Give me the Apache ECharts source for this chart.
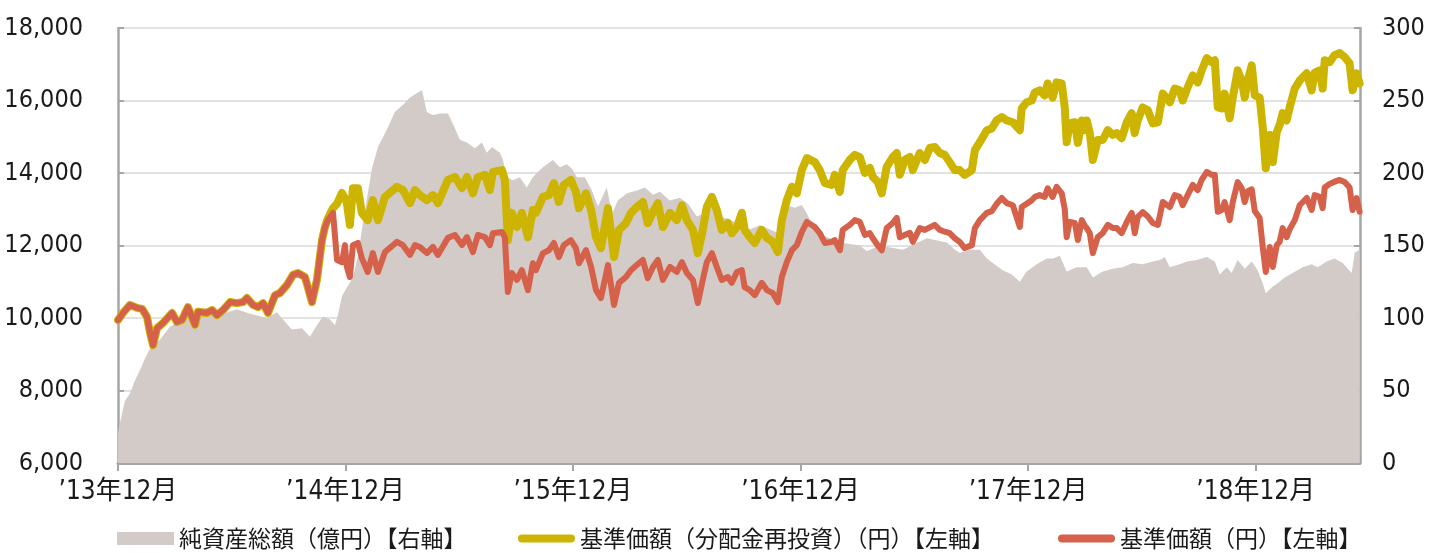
<!DOCTYPE html>
<html>
<head>
<meta charset="utf-8">
<script src="https://cdn.jsdelivr.net/npm/echarts@6/dist/echarts.min.js"></script>
<style>html,body{margin:0;padding:0;background:#fff;}#c{width:1429px;height:553px;}</style>
</head>
<body>
<div id="c"></div>
<script>
// x positions: months elapsed since Dec 2013
const lineMonths = [0,0.26,0.63,1.00,1.27,1.53,1.69,1.85,2.06,2.37,2.85,3.11,3.37,3.69,4.06,4.22,4.69,4.96,5.22,5.54,5.91,6.27,6.59,6.80,7.12,7.38,7.65,7.91,8.28,8.54,8.91,9.23,9.49,9.86,10.23,10.49,10.76,10.91,11.07,11.34,11.55,11.81,11.97,12.07,12.23,12.39,12.65,12.86,13.17,13.44,13.71,14.08,14.71,15.03,15.40,15.66,15.92,16.29,16.61,16.87,17.40,17.77,18.14,18.40,18.72,18.98,19.35,19.61,19.77,20.25,20.40,20.56,20.77,21.04,21.30,21.62,21.88,22.04,22.41,22.72,22.99,23.25,23.51,23.88,24.15,24.31,24.68,24.95,25.21,25.47,25.84,26.16,26.42,26.79,27.05,27.36,27.68,27.94,28.21,28.47,28.74,29.11,29.47,29.74,30.00,30.32,30.58,30.84,31.05,31.32,31.58,31.84,32.16,32.37,32.64,32.90,33.05,33.32,33.58,33.95,34.22,34.53,34.80,35.01,35.27,35.54,35.80,36.06,36.33,36.75,37.01,37.28,37.64,37.80,38.07,38.22,38.59,38.86,39.12,39.39,39.65,39.81,40.07,40.28,40.54,40.86,41.07,41.23,41.49,41.76,41.92,42.28,42.55,42.81,43.07,43.34,43.60,43.86,44.13,44.39,44.65,45.03,45.19,45.45,45.82,46.08,46.34,46.61,46.87,47.19,47.56,47.66,47.92,48.19,48.35,48.61,48.87,49.03,49.29,49.50,49.77,49.93,50.03,50.19,50.46,50.62,50.83,50.98,51.09,51.25,51.41,51.67,51.93,52.20,52.46,52.67,52.93,53.20,53.46,53.62,53.78,54.04,54.31,54.57,54.84,55.10,55.20,55.47,55.73,55.99,56.15,56.41,56.68,56.94,57.15,57.42,57.68,57.84,58.00,58.21,58.36,58.63,58.79,59.05,59.26,59.42,59.58,59.79,59.95,60.21,60.37,60.53,60.74,60.90,61.11,61.26,61.42,61.63,61.79,62.06,62.32,62.69,62.95,63.11,63.37,63.53,63.64,63.90,64.16,64.43,64.69,64.95,65.11,65.32,65.48];

const navReinvested = [9945,10140,10360,10280,10250,10030,9590,9250,9720,9860,10140,9890,9945,10300,9810,10170,10140,10220,10080,10220,10440,10410,10440,10550,10360,10300,10410,10140,10630,10690,10910,11190,11240,11130,10440,11050,12150,12500,12750,13030,13150,13450,13300,13170,12570,13580,13580,12900,12700,13250,12700,13340,13620,13530,13170,13530,13390,13250,13390,13170,13810,13890,13580,13890,13440,13890,13950,13530,14030,14080,13810,12150,12900,12510,12900,12230,12980,12900,13340,13390,13720,13200,13670,13810,13480,13030,13440,12980,12230,11930,13030,11680,12430,12620,12900,13060,13200,12620,12920,13170,12510,12900,12700,13110,12700,12430,11790,12430,13060,13340,12980,12430,12620,12340,12510,12900,12430,12230,12070,12430,12210,12100,11820,12700,13250,13620,13440,14080,14410,14300,14080,13720,13670,13950,13480,14080,14360,14500,14440,14000,14140,13890,13750,13440,14170,14440,14550,13950,14360,14440,14080,14550,14360,14690,14720,14550,14500,14300,14080,14080,13950,14080,14630,14850,15180,15230,15450,15540,15450,15400,15180,15780,15950,16000,16220,16280,16140,16470,16080,16500,16470,15810,14850,15370,15400,14830,15450,15180,15450,15100,14360,14910,14910,15180,15050,15100,14960,15400,15650,15100,15450,15810,15730,15370,15400,16190,16140,15950,16330,16280,16000,16360,16690,16500,16830,17170,17060,17110,15810,15780,16190,15510,16080,16830,16550,16080,16550,16970,16140,16080,15260,14130,15050,14300,15130,15320,15650,15450,15810,16330,16550,16750,16280,16770,16830,16330,17110,17060,17250,17310,17200,17030,16280,16750,16470];

const navPrice = [9945,10140,10360,10280,10250,10030,9590,9250,9720,9860,10140,9890,9945,10300,9810,10170,10140,10220,10080,10220,10440,10410,10440,10550,10360,10300,10410,10140,10630,10690,10910,11190,11240,11130,10440,11050,12150,12500,12700,12900,11600,11540,12010,11410,11130,12010,12070,11650,11270,11790,11270,11820,12100,12010,11740,12010,11960,11790,11960,11740,12210,12290,12010,12230,11820,12290,12230,12010,12340,12370,12230,10720,11240,11050,11320,10770,11510,11320,11790,11870,12070,11680,12010,12150,11930,11510,11870,11410,10770,10550,11460,10360,10970,11130,11320,11460,11600,11100,11410,11600,11050,11410,11270,11540,11240,11050,10410,11050,11540,11790,11410,11050,11130,10970,11270,11320,10850,10770,10630,10970,10770,10690,10440,11130,11540,11870,12010,12370,12650,12510,12340,12070,12100,12150,11870,12430,12570,12700,12650,12290,12340,12200,12000,11870,12480,12620,12760,12230,12290,12350,12100,12480,12430,12500,12570,12430,12380,12340,12200,12100,11930,12010,12480,12700,12900,12950,13150,13310,13170,13110,12510,13060,13150,13250,13340,13390,13340,13580,13340,13620,13440,13000,12230,12650,12620,12150,12700,12550,12480,12340,11790,12230,12340,12570,12480,12480,12340,12650,12900,12340,12790,12920,12800,12620,12570,13200,13200,13060,13390,13340,13110,13390,13670,13530,13810,14030,13950,13950,12930,12980,13200,12700,13200,13750,13580,13200,13500,13550,12950,12760,11960,11270,11960,11410,12010,12100,12480,12230,12450,12700,13110,13310,12980,13390,13340,13030,13600,13700,13760,13810,13750,13600,12980,13310,12930];

const assetMonths = [0,0.21,0.37,0.63,0.90,1.16,1.42,1.69,2.21,2.74,3.43,4.17,4.85,5.54,6.27,6.96,7.86,8.38,8.70,9.17,9.70,10.12,10.49,10.81,11.18,11.44,11.60,11.81,12.07,12.39,12.65,13.02,13.39,13.71,14.18,14.60,15.03,15.40,15.76,16.03,16.29,16.61,16.98,17.40,17.66,18.03,18.40,18.82,19.19,19.45,19.72,20.14,20.30,20.51,20.83,21.19,21.56,21.88,22.09,22.41,22.93,23.30,23.67,23.94,24.20,24.62,24.99,25.31,25.78,26.05,26.36,26.84,27.36,27.79,28.21,28.58,29.10,29.63,30.05,30.53,30.84,31.32,31.74,32.27,32.79,33.32,33.85,34.38,34.74,35.01,35.43,35.69,36.06,36.33,36.75,37.01,38.07,39.12,39.49,40.18,41.39,42.65,43.71,44.13,44.39,44.92,45.45,45.82,46.13,46.66,47.13,47.56,47.92,48.45,48.98,49.30,49.67,50.03,50.56,51.09,51.41,51.93,52.46,52.99,53.51,54.04,54.57,54.94,55.20,55.47,55.99,56.36,56.89,57.42,57.84,58.10,58.47,58.73,59.05,59.42,59.79,60.10,60.37,60.53,60.84,61.16,61.53,61.95,62.48,62.95,63.27,63.74,64.16,64.59,65.06,65.22,65.48];

const netAssets = [21,34,43,48,57,64,72,79,85,94,99,106,107,103,106,103,100,104,99,92,93,87,95,101,99,95,102,115,121,128,143,174,203,218,230,242,247,252,255,257,242,240,241,241,234,223,221,217,221,214,218,214,209,197,195,197,190,197,200,204,209,204,206,203,197,197,188,177,190,172,181,186,188,190,185,187,181,183,179,170,172,177,170,168,164,161,164,161,159,168,177,176,178,172,160,158,152,150,146,150,147,155,152,147,145,147,147,141,138,133,130,125,132,137,141,141,143,132,135,135,128,132,134,135,138,137,139,140,142,135,137,139,140,142,139,130,135,131,140,134,139,133,124,117,121,124,128,131,135,137,135,139,141,138,131,145,147];

const xTickYears = ['13','14','15','16','17','18'];
const seriesNames = ['純資産総額（億円）【右軸】','基準価額（分配金再投資）（円）【左軸】','基準価額（円）【左軸】'];

const pair = (xs, ys) => xs.map((x, i) => [x, ys[i]]);

const numFont = "'Liberation Sans Narrow','DejaVu Sans Condensed','Noto Sans CJK JP',sans-serif";
const axisGray = '#a6a6a6';
const colGray = '#d3cbc8', colYellow = '#cdb400', colRed = '#d5614a';
const lineIcon = 'path://M4,0 H53 A4,4 0 0 1 53,8 H4 A4,4 0 0 1 4,0 Z';

const legendBase = {
  top: 522, itemWidth: 57, itemHeight: 13,
  textStyle: {fontFamily: "'Noto Sans CJK JP',sans-serif", fontSize: 23, color: '#1a1a1a'}
};

const chart = echarts.init(document.getElementById('c'), null, {renderer: 'canvas'});
chart.setOption({
  animation: false,
  backgroundColor: '#ffffff',
  grid: {left: 118, right: 69, top: 28, bottom: 90, containLabel: false, outerBoundsMode: 'none'},
  legend: [
    Object.assign({}, legendBase, {left: 112, data: [{name: seriesNames[0], icon: 'rect', itemStyle: {color: colGray}}]}),
    Object.assign({}, legendBase, {left: 513, data: [{name: seriesNames[1], icon: lineIcon, itemStyle: {color: colYellow}}]}),
    Object.assign({}, legendBase, {left: 1053, data: [{name: seriesNames[2], icon: lineIcon, itemStyle: {color: colRed}}]})
  ],
  xAxis: {
    type: 'value', min: 0, max: 65.5, interval: 12,
    axisLine: {lineStyle: {color: axisGray, width: 3}},
    axisTick: {show: true, inside: false, length: 8, lineStyle: {color: axisGray, width: 2}},
    splitLine: {show: false},
    axisLabel: {
      margin: 16, fontSize: 26, color: '#1a1a1a', fontFamily: numFont,
      showMaxLabel: false,
      formatter: v => (v % 12 === 0 && v / 12 < xTickYears.length) ? '’' + xTickYears[v / 12] + '年12月' : ''
    }
  },
  yAxis: [
    {
      type: 'value', min: 6000, max: 18000, interval: 2000, position: 'left',
      axisLine: {show: true, lineStyle: {color: axisGray, width: 2.5}},
      axisTick: {show: true, inside: true, length: 6, lineStyle: {color: axisGray, width: 2}},
      splitLine: {show: true, lineStyle: {color: '#d9d9d9', width: 1.5}},
      axisLabel: {margin: 35, fontSize: 25, color: '#1a1a1a', fontFamily: numFont,
        formatter: v => v.toLocaleString('en-US')}
    },
    {
      type: 'value', min: 0, max: 300, interval: 50, position: 'right',
      axisLine: {show: true, lineStyle: {color: axisGray, width: 2.5}},
      axisTick: {show: true, inside: true, length: 6, lineStyle: {color: axisGray, width: 2}},
      splitLine: {show: false},
      axisLabel: {margin: 22, fontSize: 25, color: '#1a1a1a', fontFamily: numFont}
    }
  ],
  series: [
    {
      name: seriesNames[0], type: 'line', yAxisIndex: 1,
      data: pair(assetMonths, netAssets),
      symbol: 'none', showSymbol: false,
      lineStyle: {width: 0, color: colGray},
      itemStyle: {color: colGray},
      areaStyle: {color: colGray, opacity: 1},
      z: 1
    },
    {
      name: seriesNames[1], type: 'line', yAxisIndex: 0,
      data: pair(lineMonths, navReinvested),
      symbol: 'none', showSymbol: false,
      lineStyle: {width: 8, color: colYellow, cap: 'round', join: 'round'},
      itemStyle: {color: colYellow},
      z: 2
    },
    {
      name: seriesNames[2], type: 'line', yAxisIndex: 0,
      data: pair(lineMonths, navPrice),
      symbol: 'none', showSymbol: false,
      lineStyle: {width: 6, color: colRed, cap: 'round', join: 'round'},
      itemStyle: {color: colRed},
      z: 3
    }
  ]
});
</script>
</body>
</html>
